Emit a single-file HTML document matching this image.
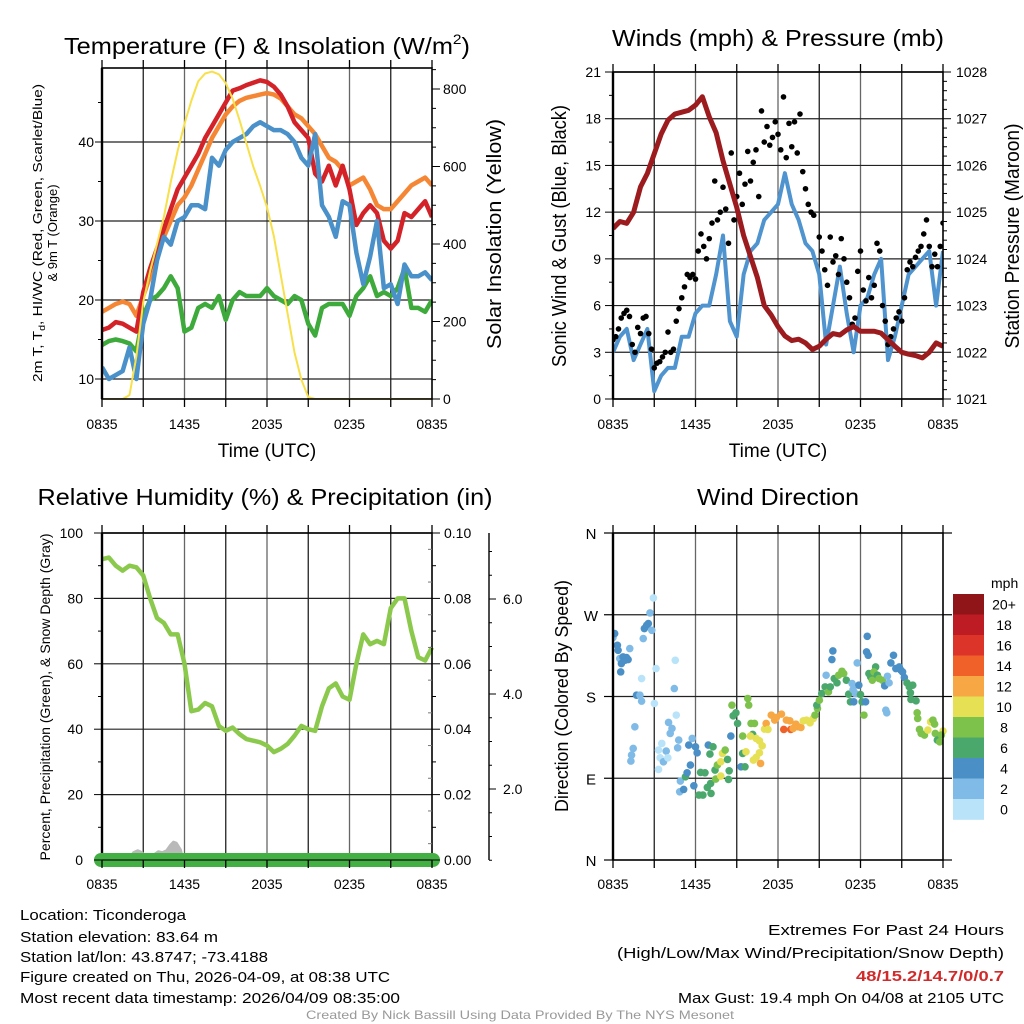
<!DOCTYPE html>
<html><head><meta charset="utf-8">
<style>
html,body{margin:0;padding:0;background:#fff;}
svg{display:block;font-family:"Liberation Sans",Arial,sans-serif;}
</style></head>
<body>
<svg id="fig" width="1024" height="1024" viewBox="0 0 1024 1024" xmlns="http://www.w3.org/2000/svg">
<rect x="0" y="0" width="1024" height="1024" fill="#fff"/>
<g id="layer"></g>
<!-- Titles -->
<text x="64" y="54" font-size="23" textLength="406" lengthAdjust="spacingAndGlyphs">Temperature (F) &amp; Insolation (W/m<tspan font-size="14" dy="-10">2</tspan><tspan dy="10">)</tspan></text>
<text x="778" y="46" font-size="23" text-anchor="middle" textLength="332" lengthAdjust="spacingAndGlyphs">Winds (mph) &amp; Pressure (mb)</text>
<text x="265" y="505" font-size="23" text-anchor="middle" textLength="455" lengthAdjust="spacingAndGlyphs">Relative Humidity (%) &amp; Precipitation (in)</text>
<text x="778" y="505" font-size="23" text-anchor="middle" textLength="162" lengthAdjust="spacingAndGlyphs">Wind Direction</text>
<!-- Axis titles -->
<text x="267" y="457" font-size="19" text-anchor="middle">Time (UTC)</text>
<text x="778" y="457" font-size="19" text-anchor="middle">Time (UTC)</text>
<text transform="translate(42,233) rotate(-90)" font-size="13" text-anchor="middle" textLength="298" lengthAdjust="spacingAndGlyphs">2m T, T<tspan font-size="9" dy="3">d</tspan><tspan dy="-3">, HI/WC (Red, Green, Scarlet/Blue)</tspan></text>
<text transform="translate(57,233) rotate(-90)" font-size="13" text-anchor="middle">&amp; 9m T (Orange)</text>
<text transform="translate(501,234) rotate(-90)" font-size="20" text-anchor="middle" textLength="230" lengthAdjust="spacingAndGlyphs">Solar Insolation (Yellow)</text>
<text transform="translate(566,236) rotate(-90)" font-size="20" text-anchor="middle" textLength="262" lengthAdjust="spacingAndGlyphs">Sonic Wind &amp; Gust (Blue, Black)</text>
<text transform="translate(1019,236) rotate(-90)" font-size="20" text-anchor="middle" textLength="225" lengthAdjust="spacingAndGlyphs">Station Pressure (Maroon)</text>
<text transform="translate(50,697) rotate(-90)" font-size="14" text-anchor="middle" textLength="327" lengthAdjust="spacingAndGlyphs">Percent, Precipitation (Green), &amp; Snow Depth (Gray)</text>
<text transform="translate(568,696) rotate(-90)" font-size="18" text-anchor="middle" textLength="232" lengthAdjust="spacingAndGlyphs">Direction (Colored By Speed)</text>
<!-- Footer -->
<g font-size="15">
<text x="20" y="920" textLength="166" lengthAdjust="spacingAndGlyphs">Location: Ticonderoga</text>
<text x="20" y="942" textLength="198" lengthAdjust="spacingAndGlyphs">Station elevation: 83.64 m</text>
<text x="20" y="962" textLength="248" lengthAdjust="spacingAndGlyphs">Station lat/lon: 43.8747; -73.4188</text>
<text x="20" y="982" textLength="370" lengthAdjust="spacingAndGlyphs">Figure created on Thu, 2026-04-09, at 08:38 UTC</text>
<text x="20" y="1003" textLength="380" lengthAdjust="spacingAndGlyphs">Most recent data timestamp: 2026/04/09 08:35:00</text>
</g>
<g font-size="15" text-anchor="end">
<text x="1004" y="935" textLength="236" lengthAdjust="spacingAndGlyphs">Extremes For Past 24 Hours</text>
<text x="1004" y="958" textLength="387" lengthAdjust="spacingAndGlyphs">(High/Low/Max Wind/Precipitation/Snow Depth)</text>
<text x="1004" y="981" fill="#d12a2a" font-weight="bold" textLength="148" lengthAdjust="spacingAndGlyphs">48/15.2/14.7/0/0.7</text>
<text x="1004" y="1003" textLength="326" lengthAdjust="spacingAndGlyphs">Max Gust: 19.4 mph On 04/08 at 2105 UTC</text>
</g>
<text x="520" y="1019" font-size="12" fill="#999" text-anchor="middle" textLength="428" lengthAdjust="spacingAndGlyphs">Created By Nick Bassill Using Data Provided By The NYS Mesonet</text>
<text x="991" y="588" font-size="14" text-anchor="start">mph</text>
</svg>
<script>
// ---------- DATA ----------
const timeLabels = ["0835","1435","2035","0235","0835"];
const halfHours = Array.from({length:49},(_,i)=>i*0.5);
const temp2m = [16.2,16.5,17.2,17,16.5,16,21,24,26.5,29,31.5,34,35.5,37,38.5,40.5,42,43.5,45,46.5,46.8,47.2,47.5,47.8,47.6,47,46,44.5,42.5,41.5,40.5,36,35,37,34.5,37,34,29.5,31,32,31,27.5,26.5,27.5,31,30.5,31.5,32.5,30.5];
const temp9m = [18.5,19,19.5,19.8,19.5,18,20.5,23,25.5,28,30,32,33,34.5,36.5,38.5,40.5,42,43.5,44.5,45.2,45.6,45.8,46,46.2,46,45.5,44.5,43.5,43,42,41,39.5,38,37.5,36.5,34.5,35,35.5,34,32,31.5,31.5,32.5,33.5,34.5,35,35.5,34.5];
const windChill = [11.5,10,10.5,11,14,10,17,20,25,28,27,30,30.5,32,32,31.5,38,37,39,40,40.5,41,42,42.5,42,41.5,41.5,41,40,38,37,41,32,30.5,28,32.5,32,26,22,25.5,30,21.5,22,19.5,24.5,23,23,23.5,22.5];
const dewpoint = [14.3,14.8,15,14.8,14.5,13.5,18,20,20.5,21.5,23,21.5,16,16.5,19,19.5,19,20.5,17.5,20,21,20.5,20.5,20.5,21.5,20.5,20,19.5,20.5,20,17,15.5,19,19.5,19.5,19.5,18,20.5,21.5,23,20.5,21,20.5,21.5,24,19,19,18.5,20];
const solar = [0,0,0,0,10,110,250,330,400,470,560,640,710,770,820,840,845,838,815,775,720,660,600,550,495,420,320,220,120,50,5,0,0,0,0,0,0,0,0,0,0,0,0,0,0,0,0,0,0];
const windSpeed = [3,4,4.5,2.5,3.5,4.5,0.5,1.5,2,2,4,4,5.5,6,6,8,10.5,5,4,8,9.5,10,11.5,12,12.5,14.5,12.5,11.5,10,9.5,8,3.5,6,8.5,5.5,3,6,6.5,8,9,2.5,4,6,8,8.5,9,9.5,6,9.5];
const pressure = [1024.65,1024.8,1024.76,1025,1025.54,1025.83,1026.25,1026.67,1026.97,1027.1,1027.14,1027.18,1027.29,1027.47,1027.04,1026.7,1026.1,1025.6,1025.1,1024.5,1024.05,1023.6,1023,1022.8,1022.55,1022.35,1022.25,1022.28,1022.2,1022.06,1022.13,1022.28,1022.4,1022.37,1022.48,1022.55,1022.45,1022.45,1022.45,1022.41,1022.27,1022.13,1022,1021.96,1021.93,1021.88,1022,1022.2,1022.13];
const gustHours = [0,0.2,0.4,0.6,0.8,1,1.2,1.4,1.6,1.8,2,2.2,2.4,2.6,2.8,3,3.2,3.4,3.6,3.8,4,4.2,4.4,4.6,4.8,5,5.2,5.4,5.6,5.8,6,6.2,6.4,6.6,6.8,7,7.2,7.4,7.6,7.8,8,8.2,8.4,8.6,8.8,9,9.2,9.4,9.6,9.8,10,10.2,10.4,10.6,10.8,11,11.2,11.4,11.6,11.8,12,12.2,12.4,12.6,12.8,13,13.2,13.4,13.6,13.8,14,14.2,14.4,14.6,15,15.2,15.4,15.6,15.8,16,16.2,16.4,16.6,16.8,17,17.2,17.4,17.6,17.8,18,18.2,18.4,18.6,18.8,19,19.2,19.4,19.6,19.8,20,20.2,20.4,20.6,20.8,21,21.2,21.4,21.6,21.8,22,22.2,22.4,22.6,22.8,23,23.2,23.4,23.6,23.8,24];
const gustValues = [3.8,4,4.5,5.2,5.5,5.7,5.3,3.5,3,4.6,4.2,5.2,5.3,4.2,3.2,2,2.3,2.4,2.7,3,4.3,3,3.2,5,5.8,6.5,7.2,8,7.8,8,7.7,9.5,10.6,9.8,9,10.3,11.3,14,11.5,12,13.6,12.2,10,15.8,11.5,13,14.5,12.5,13.8,15.9,14,15.2,16,13,18.5,16.5,17.5,16.3,16.8,17.8,17,16,19.4,15.5,17.7,16.2,17.8,15.8,18.3,14.6,13.5,12.5,12,11.8,10.4,9.5,8.3,7.3,10.4,8.8,9.2,8,10.3,9,7.5,6.5,4.8,5.2,8.2,9.5,7,6.3,7.8,6.5,7.3,10,9.5,6,5,3.5,4,4.5,5.2,5.6,5,6.5,8.3,8.8,8.5,9.1,9.5,9.8,10.6,11.5,9.8,8.5,9.3,8.5,9.8,11.3];
const rhValues = [92,92.5,90,88.5,90,89.5,87,80,74,72.5,69,69,60,45.5,46,48,47,41,39.5,40.5,38.5,37,36.5,36,35,33,34,35.5,38,41,40,39.5,47,52.5,54,50,49,60,69,66,67,66,77,80,80,70,62,61,65];
const snowHours = [1.7,2.0,2.3,2.6,2.9,3.2,3.5,3.8,4.1,4.4,4.7,5.0,5.2,5.4,5.7,6.0];
const snowDepth = [0.38,0.55,0.66,0.7,0.66,0.55,0.5,0.62,0.68,0.66,0.7,0.82,0.88,0.86,0.72,0.4];
const dirHours = [0,0.12,0.32,0.37,0.49,0.61,0.73,0.86,0.98,1.1,0.56,1.22,1.71,1.96,2.08,1.59,1.47,1.35,1.3,2.2,2.28,2.45,2.57,2.69,2.94,2.82,3.13,2.08,3.01,4.53,4.46,4.04,4.29,4.16,4.6,4.78,4.7,3.87,3.55,3.31,3.43,3.67,3.99,3.31,4.9,4.85,5.14,5.27,5.39,5.63,5.76,5.51,6.0,6.12,5.88,6.25,6.54,6.37,6.69,6.93,7.05,7.27,7.1,6.86,7.13,7.42,7.47,7.59,7.84,7.96,8.16,8.33,8.45,8.4,7.84,8.57,8.65,8.74,8.94,9.06,9.31,9.43,9.6,9.67,9.43,9.8,9.87,10.04,10.29,10.16,9.99,10.41,10.65,10.85,10.65,10.41,10.21,10.73,11.02,11.14,11.27,11.51,11.76,11.88,12.25,12.42,12.61,12.86,12.93,13.1,13.3,13.47,13.67,13.84,14.08,14.33,14.57,14.69,14.87,14.82,15.01,15.18,15.43,15.67,15.8,15.5,15.99,15.92,16.09,16.29,16.41,16.65,16.78,16.97,17.14,17.27,17.39,17.46,17.51,17.63,17.88,18.0,18.12,18.25,18.37,18.49,18.44,18.56,17.76,18.61,18.74,18.86,19.1,18.98,19.23,19.35,19.59,19.76,19.96,20.08,19.91,19.84,20.21,20.4,20.57,20.82,20.94,21.06,21.19,21.38,21.55,21.8,21.63,21.67,22.04,22.12,22.16,22.29,22.41,22.65,22.9,23.1,23.27,23.39,23.44,23.59,23.76,24,23.88];
const dirDegrees = [244.9,249.3,236.4,230.9,221.8,216.3,223.6,219.9,222.9,220.7,207.1,232.8,181.5,181.5,174.9,146.6,122.8,115.5,108.9,243.8,254.8,258.4,260.3,272,288.5,252.9,210.8,199.8,172.3,219.9,188.8,151.4,144.8,139.3,159.5,132,123.5,119.9,128.3,121,112.5,108.1,112.5,99.7,86.9,75.1,77.7,91.6,96,104.5,133.8,126.5,124.6,118,81.7,71.5,71.5,96.4,96,126.5,116.6,124.6,84.3,79.9,73.3,99,89.1,104.5,108.1,117.3,121,110.7,98.2,88.7,92.4,136.4,170.5,158.7,162,150.3,102.6,117.3,102.6,119.1,136.4,177.8,170.5,150.3,150.3,138.2,136.4,133.8,131.2,125.7,118,112.9,110,106.3,144.1,150.3,143.7,159.5,154,156.9,160.6,143.7,154,153.2,143.7,144.8,149.6,146.6,145.9,153.2,154,151,155.8,159.5,166.8,170.5,176,183.3,190.6,185.1,190.6,203.4,230.2,220.7,199.8,195,203.4,207.8,205.3,197.9,182.6,174.1,194.3,187.7,174.1,183.3,192.4,182.2,174.1,159.5,174.1,246.3,229.1,225.4,217,205.3,201.6,197.9,212.6,207.1,203.4,199.8,197.9,191.7,202.3,195,162,165,217,225.4,210.8,212.6,208.9,207.1,200.9,195,190.6,192.4,184,176.7,175.2,162,155.8,143.7,139.3,137.5,143,152.1,154,149.6,139.3,132,130.1,141.9,137.5];
const dirSpeeds = [3,5,5,5,3,5,5,5,5,5,5,3,5,3,3,3,3,3,3,3,5,5,5,3,1,3,1,1,1,1,3,3,3,3,1,3,3,3,1,1,1,3,1,1,3,3,5,7,5,5,3,5,5,5,5,7,7,7,7,5,7,7,7,7,7,7,9,9,11,11,9,7,7,7,11,5,9,7,7,7,5,7,7,11,9,9,9,9,9,7,11,11,11,11,11,11,11,13,11,13,11,13,13,13,13,15,13,13,15,13,13,13,13,11,11,11,11,9,9,7,9,7,7,9,7,3,5,5,7,7,9,9,9,7,7,7,3,3,5,3,5,7,7,9,5,5,5,5,3,7,7,9,7,9,7,9,9,5,3,3,3,3,5,5,5,5,5,5,5,7,7,7,7,7,7,9,9,9,9,9,11,11,9,9,9,7,9,11,9];
const speedBinLabels = ["20+","18","16","14","12","10","8","6","4","2","0"];
const speedBinColors = ["#8f1519","#bd1c24","#dd3429","#f0612a","#f7a743","#e6e055","#7dc24b","#4aa86c","#4a8fc6","#7fbbe6","#b8e3f8"];
const p1Left = [10,20,30,40], p1Right=[0,200,400,600,800];
const p2Left = [0,3,6,9,12,15,18,21], p2Right=[1021,1022,1023,1024,1025,1026,1027,1028];
const p3Left = [0,20,40,60,80,100], p3Right=["0.00","0.02","0.04","0.06","0.08","0.10"];
const snowTicks = ["2.0","4.0","6.0"];
const dirLabels = ["N","E","S","W","N"];

// ---------- HELPERS ----------
const NS="http://www.w3.org/2000/svg";
const layer=document.getElementById('layer');
function mk(tag,attrs,parent){const e=document.createElementNS(NS,tag);for(const k in attrs)e.setAttribute(k,attrs[k]);(parent||layer).appendChild(e);return e;}
function txt(x,y,s,size,anchor,parent){const e=mk('text',{x:x,y:y,'font-size':size,'text-anchor':anchor||'start'},parent);e.textContent=s;return e;}
function xScale(x0,x1){return h=>x0+h/24*(x1-x0);}
function linScale(v0,y0,v1,y1){return v=>y0+(v-v0)*(y1-y0)/(v1-v0);}
function pathFrom(xs,ys,fx,fy){let d='';for(let i=0;i<xs.length;i++){d+=(i?'L':'M')+fx(xs[i]).toFixed(2)+','+fy(ys[i]).toFixed(2);}return d;}
function grid(g,x0,x1,top,bot,fx,hy){
  for(let h=3;h<24;h+=3){const x=fx(h);const l=mk('line',{x1:x,y1:top,x2:x,y2:bot,stroke:(h%6===0)?'#666':'#222','stroke-width':1.3},g);
  }
  hy.forEach(y=>{const l=mk('line',{x1:x0,y1:y,x2:x1,y2:y,stroke:'#222','stroke-width':1.2},g);
  });
}
function timeTicks(g,fx,top,bot,labelY){
  for(let h=0;h<=24;h+=3){const x=fx(h);
    mk('line',{x1:x,y1:top-8,x2:x,y2:top,stroke:'#000','stroke-width':1.3},g);
    mk('line',{x1:x,y1:bot,x2:x,y2:bot+8,stroke:'#000','stroke-width':1.3},g);}
  timeLabels.forEach((s,i)=>{const t=txt(fx(i*6),labelY,s,14,'middle',g);
    });
}
function frame(g,x0,x1,top,bot){const r=mk('rect',{x:x0,y:top,width:x1-x0,height:bot-top,fill:'none',stroke:'#000','stroke-width':1.6},g);
 
 mk('line',{x1:x0,y1:top,x2:x0,y2:bot,stroke:'#000','stroke-width':2.4},g);}
function clip(id,x0,x1,top,bot){const c=mk('clipPath',{id:id});mk('rect',{x:x0,y:top,width:x1-x0,height:bot-top},c);}

// ---------- PANEL 1: temperature ----------
(function(){
 const g=mk('g',{});
 
 
 const X0=102,X1=432,T=68,B=399;
 const fx=xScale(X0,X1), fy=linScale(10,379,40,142), fs=linScale(0,399,800,89);
 grid(g,X0,X1,T,B,fx,p1Left.map(fy));
 clip('c1',X0,X1,T,B);
 const d=mk('g',{'clip-path':'url(#c1)'},g);
 const s1=mk('path',{d:pathFrom(halfHours,temp9m,fx,fy),fill:'none',stroke:'#f58634','stroke-width':4.5,'stroke-linejoin':'round'},d);
 
 const s2=mk('path',{d:pathFrom(halfHours,dewpoint,fx,fy),fill:'none',stroke:'#3daa3b','stroke-width':4.5,'stroke-linejoin':'round'},d);
 
 const s3=mk('path',{d:pathFrom(halfHours,temp2m,fx,fy),fill:'none',stroke:'#d42229','stroke-width':4.5,'stroke-linejoin':'round'},d);
 
 const s4=mk('path',{d:pathFrom(halfHours,windChill,fx,fy),fill:'none',stroke:'#4a90c9','stroke-width':4.5,'stroke-linejoin':'round'},d);
 
 const s5=mk('path',{d:pathFrom(halfHours,solar,fx,fs),fill:'none',stroke:'#f7e04a','stroke-width':2,'stroke-linejoin':'round'},d);
 
 frame(g,X0,X1,T,B);
 timeTicks(g,fx,T,B,429);
 for(let v=10;v<=45;v+=5){const y=fy(v);mk('line',{x1:X0-(v%10?4:7),y1:y,x2:X0,y2:y,stroke:'#000','stroke-width':1},g);}
 p1Left.forEach(v=>{const t=txt(X0-8,fy(v)+5,String(v),14,'end',g);});
 for(let v=0;v<=850;v+=50){const y=fs(v);mk('line',{x1:X1,y1:y,x2:X1+(v%200?4:8),y2:y,stroke:'#000','stroke-width':1},g);}
 p1Right.forEach(v=>{const t=txt(X1+11,fs(v)+5,String(v),14,'start',g);});
})();

// ---------- PANEL 2: wind & pressure ----------
(function(){
 const g=mk('g',{});
 
 
 const X0=613,X1=943,T=72,B=399;
 const fx=xScale(X0,X1), fy=linScale(0,399,21,72), fp=linScale(1021,399,1028,72);
 grid(g,X0,X1,T,B,fx,p2Left.map(fy));
 clip('c2',X0,X1,T,B);
 const d=mk('g',{'clip-path':'url(#c2)'},g);
 const w=mk('path',{d:pathFrom(halfHours,windSpeed,fx,fy),fill:'none',stroke:'#4f93cf','stroke-width':4,'stroke-linejoin':'round'},d);
 
 gustHours.forEach((h,i)=>{const c=mk('circle',{cx:fx(h),cy:fy(gustValues[i]),r:2.8,fill:'#000'},d);
  });
 const p=mk('path',{d:pathFrom(halfHours,pressure,fx,fp),fill:'none',stroke:'#9b1b1e','stroke-width':5,'stroke-linejoin':'round'},d);
 
 frame(g,X0,X1,T,B);
 timeTicks(g,fx,T,B,429);
 for(let v=0;v<=21;v+=1.5){const y=fy(v);mk('line',{x1:X0-(v%3?4:8),y1:y,x2:X0,y2:y,stroke:'#000','stroke-width':1},g);}
 p2Left.forEach(v=>{const t=txt(X0-12,fy(v)+5,String(v),14,'end',g);});
 for(let k=0;k<=35;k++){const v=1021+k*0.2;const y=fp(v);mk('line',{x1:X1,y1:y,x2:X1+(k%5?4:8),y2:y,stroke:'#000','stroke-width':1},g);}
 p2Right.forEach(v=>{const t=txt(X1+13,fp(v)+5,String(v),14,'start',g);});
})();

// ---------- PANEL 3: RH & precip ----------
(function(){
 const g=mk('g',{});
 
 
 const X0=102,X1=432,T=533,B=860;
 const fx=xScale(X0,X1), fy=linScale(0,860,100,533), fsn=linScale(0,884,2,789);
 grid(g,X0,X1,T,B,fx,p3Left.map(fy));
 const sg=mk('clipPath',{id:'c3s'});mk('rect',{x:X0-10,y:T,width:X1-X0+20,height:B+7-T},sg);
 const sn=mk('g',{'clip-path':'url(#c3s)'},g);
 let dd='M'+fx(snowHours[0])+','+fsn(0);
 snowHours.forEach((h,i)=>{dd+='L'+fx(h).toFixed(2)+','+fsn(snowDepth[i]).toFixed(2);});
 dd+='L'+fx(snowHours[snowHours.length-1])+','+fsn(0)+'Z';
 const s=mk('path',{d:dd,fill:'#b9b9b9',stroke:'#b9b9b9','stroke-width':3,'stroke-linejoin':'round'},sn);
 
 clip('c3',X0-6,X1+6,T,B+8);
 const d=mk('g',{'clip-path':'url(#c3)'},g);
 const r=mk('path',{d:pathFrom(halfHours,rhValues,fx,fy),fill:'none',stroke:'#8bc94d','stroke-width':4.5,'stroke-linejoin':'round'},d);
 
 frame(g,X0,X1,T,B);
 const pr=mk('line',{x1:X0-1,y1:B,x2:X1+1,y2:B,stroke:'#43b043','stroke-width':14,'stroke-linecap':'round'},g);
 
 mk('line',{x1:X0,y1:B,x2:X1,y2:B,stroke:'#111','stroke-width':1.2},g);
 timeTicks(g,fx,T,B,889);
 for(let v=0;v<=100;v+=10){const y=fy(v);mk('line',{x1:X0-(v%20?4:8),y1:y,x2:X0,y2:y,stroke:'#000','stroke-width':1},g);
  mk('line',{x1:X1,y1:y,x2:X1+(v%20?4:8),y2:y,stroke:'#000','stroke-width':1},g);}
 for(let v=5;v<100;v+=10){const y=fy(v);mk('line',{x1:X1-4,y1:y,x2:X1,y2:y,stroke:'#777','stroke-width':1},g);}
 p3Left.forEach(v=>{const t=txt(X0-19,fy(v)+5,String(v),14,'end',g);});
 p3Right.forEach((s,i)=>{const t=txt(X1+12,fy(i*20)+5,s,14,'start',g);});
 const ax=mk('line',{x1:489,y1:T,x2:489,y2:B,stroke:'#000','stroke-width':1.4},g);
 
 for(let k=1;k<=14;k++){const v=k*0.5;const y=fsn(v);if(y<T)break;mk('line',{x1:489,y1:y,x2:489+(k%4?3:7),y2:y,stroke:'#000','stroke-width':1},g);}
 snowTicks.forEach(s=>{const t=txt(503,fsn(parseFloat(s))+5,s,14,'start',g);});
})();

// ---------- PANEL 4: wind direction ----------
(function(){
 const g=mk('g',{});
 
 
 const X0=613,X1=943,T=533,B=860;
 const fx=xScale(X0,X1), fy=linScale(0,860,360,533);
 grid(g,X0,X1,T,B,fx,[90,180,270].map(fy));
 clip('c4',X0,X1+6,T,B);
 const d=mk('g',{'clip-path':'url(#c4)'},g);
 function col(s){let b=Math.min(10,Math.floor(s/2));return speedBinColors[10-b];}
 dirHours.forEach((h,i)=>{const c=mk('circle',{cx:fx(h),cy:fy(dirDegrees[i]),r:3.8,fill:col(dirSpeeds[i])},d);
  });
 frame(g,X0,X1,T,B);
 for(let h=0;h<=24;h+=3){const x=fx(h);mk('line',{x1:x,y1:T-8,x2:x,y2:T,stroke:'#000','stroke-width':1.3},g);mk('line',{x1:x,y1:B,x2:x,y2:B+8,stroke:'#000','stroke-width':1.3},g);}
 timeLabels.forEach((s,i)=>{const t=txt(fx(i*6),889,s,14,'middle',g);});
 dirLabels.forEach((s,i)=>{const y=fy(i*90);mk('line',{x1:X0-9,y1:y,x2:X0,y2:y,stroke:'#000','stroke-width':1.2},g);
  mk('line',{x1:X1,y1:y,x2:X1+9,y2:y,stroke:'#000','stroke-width':1.2},g);
  const t=txt(591,y+6,s,15,'middle',g);});
 const cb=mk('g',{},g);
 
 
 const top=594,bh=20.5;
 speedBinColors.forEach((c,i)=>{const r=mk('rect',{x:953,y:top+i*bh,width:31,height:bh+0.3,fill:c},cb);
  
  const t=txt(1004,top+i*bh+bh/2+5,speedBinLabels[i],14,'middle',cb);});
})();
</script>
</body></html>
